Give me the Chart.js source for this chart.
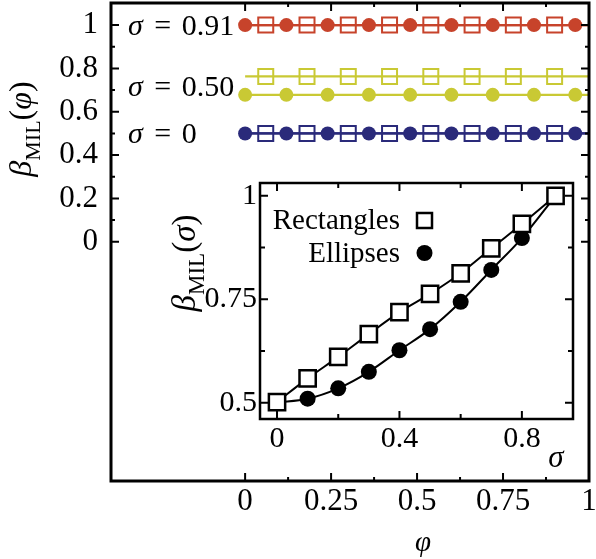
<!DOCTYPE html>
<html>
<head>
<meta charset="utf-8">
<script src="https://cdn.jsdelivr.net/npm/chart.js@4"></script>
<style>
  html, body { margin: 0; padding: 0; background: #fff; }
  #wrap { position: relative; width: 596px; height: 559px; }
  #wrap canvas { position: absolute; left: 0; top: 0; }
</style>
</head>
<body>
<div id="wrap">
  <canvas id="main" width="596" height="559"></canvas>
  <canvas id="inset" width="596" height="559"></canvas>
</div>
<script>
// ---- main panel: beta_MIL as a function of phi ----
const phiCircles = [0, 0.12, 0.24, 0.36, 0.48, 0.60, 0.72, 0.84, 0.96];
const phiSquares = [0.06, 0.18, 0.30, 0.42, 0.54, 0.66, 0.78, 0.90];
const phiLine = [0, 1];
const sigmaLabels = ['0.91', '0.50', '0'];
const betaRectPhi = [1.0, 0.763, 0.5];
const betaEllPhi = [1.0, 0.678, 0.5];
const seriesColors = ['#c7432b', '#c9c934', '#2a2a7a'];
const phiTicks = [0, 0.25, 0.5, 0.75, 1];
const phiMinorTicks = [0.125, 0.375, 0.625, 0.875];
const betaTicks = [0, 0.2, 0.4, 0.6, 0.8, 1];
const betaMinorTicks = [0.1, 0.3, 0.5, 0.7, 0.9];

// ---- inset: beta_MIL as a function of sigma ----
const sigmaValues = [0, 0.1, 0.2, 0.3, 0.4, 0.5, 0.6, 0.7, 0.8, 0.91];
const betaRect = [0.502, 0.559, 0.611, 0.666, 0.719, 0.763, 0.813, 0.873, 0.932, 1.0];
const betaEll = [0.501, 0.510, 0.535, 0.575, 0.627, 0.678, 0.744, 0.821, 0.898, 1.0];
const sigmaTicks = [0, 0.4, 0.8];
const sigmaMinorTicks = [0.2, 0.6];
const betaSigmaTicks = [0.5, 0.75, 1];
const betaSigmaMinorTicks = [0.625, 0.875];
const legendNames = ['Rectangles', 'Ellipses'];

const SERIF = '"Liberation Serif", "DejaVu Serif", serif';
Chart.defaults.font.family = SERIF;
Chart.defaults.color = '#000';

// draws a run of text pieces (italic symbols, subscripts) along one baseline
function drawRich(ctx, parts, x, y, angle, align) {
  ctx.save();
  ctx.translate(x, y);
  ctx.rotate(angle);
  ctx.textBaseline = 'alphabetic';
  ctx.textAlign = 'left';
  ctx.fillStyle = '#000';
  let w = 0;
  parts.forEach(p => { ctx.font = p.f; w += ctx.measureText(p.t).width + (p.dx || 0); });
  let cx = align === 'center' ? -w / 2 : (align === 'right' ? -w : 0);
  parts.forEach(p => {
    ctx.font = p.f;
    ctx.fillText(p.t, cx, p.dy || 0);
    cx += ctx.measureText(p.t).width + (p.dx || 0);
  });
  ctx.restore();
}

// inward ticks on all four sides plus a closed frame
function frameTicks(o) {
  return {
    id: 'frameTicks',
    afterDatasetsDraw(chart) {
      const { ctx, chartArea: a, scales: { x, y } } = chart;
      ctx.save();
      ctx.strokeStyle = '#000';
      ctx.lineWidth = o.tickWidth;
      ctx.beginPath();
      const xs = (vals, len) => vals.forEach(v => {
        const p = x.getPixelForValue(v);
        ctx.moveTo(p, a.bottom); ctx.lineTo(p, a.bottom - len);
        ctx.moveTo(p, a.top); ctx.lineTo(p, a.top + len);
      });
      const ys = (vals, len) => vals.forEach(v => {
        const p = y.getPixelForValue(v);
        ctx.moveTo(a.left, p); ctx.lineTo(a.left + len, p);
        ctx.moveTo(a.right, p); ctx.lineTo(a.right - len, p);
      });
      xs(o.xMajor, o.major); xs(o.xMinor, o.minor);
      ys(o.yMajor, o.major); ys(o.yMinor, o.minor);
      ctx.stroke();
      ctx.lineWidth = o.frameWidth;
      ctx.strokeRect(a.left, a.top, a.right - a.left, a.bottom - a.top);
      ctx.restore();
    }
  };
}

function fixedTicks(values) {
  return scale => { scale.ticks = values.map(v => ({ value: v })); };
}

// ---------- main chart ----------
const mainDatasets = [];
seriesColors.forEach((c, i) => {
  mainDatasets.push({
    data: phiCircles.map(p => ({ x: p, y: betaEllPhi[i] })),
    showLine: false, pointStyle: 'circle', pointRadius: 7,
    pointBackgroundColor: c, pointBorderColor: c, pointBorderWidth: 0, order: 0
  });
  mainDatasets.push({
    data: phiSquares.map(p => ({ x: p, y: betaRectPhi[i] })),
    showLine: false, pointStyle: 'rect', pointRadius: 10.6,
    pointBackgroundColor: 'rgba(0,0,0,0)', pointBorderColor: c, pointBorderWidth: 2, order: 1
  });
  [betaRectPhi[i], betaEllPhi[i]].forEach(b => {
    mainDatasets.push({
      data: phiLine.map(p => ({ x: p, y: b })),
      showLine: true, borderColor: c, borderWidth: 2.2, pointRadius: 0, order: 2
    });
  });
});

const mainLabels = {
  id: 'mainLabels',
  afterDraw(chart) {
    const { ctx, scales: { y } } = chart;
    const ann = 30;
    sigmaLabels.forEach((s, i) => {
      const v = (betaRectPhi[i] + betaEllPhi[i]) / 2;
      drawRich(ctx, [
        { t: 'σ', f: `italic ${ann}px ${SERIF}`, dx: 4 },
        { t: ' = ', f: `${ann}px ${SERIF}`, dx: 3 },
        { t: s, f: `${ann}px ${SERIF}` }
      ], 128, y.getPixelForValue(v) + 10, 0, 'left');
    });
    // axis titles
    drawRich(ctx, [
      { t: 'β', f: `italic 32px ${SERIF}` },
      { t: 'MIL', f: `22px ${SERIF}`, dy: 9 },
      { t: '(', f: `32px ${SERIF}` },
      { t: 'φ', f: `italic 32px ${SERIF}` },
      { t: ')', f: `32px ${SERIF}` }
    ], 31, 129, -Math.PI / 2, 'center');
    drawRich(ctx, [{ t: 'φ', f: `italic 29px ${SERIF}` }], 423, 551, 0, 'center');
  }
};

new Chart(document.getElementById('main'), {
  type: 'scatter',
  data: { datasets: mainDatasets },
  options: {
    responsive: false, animation: false, devicePixelRatio: 1,
    layout: { autoPadding: false, padding: { left: 0, top: 3, right: 7, bottom: 0 } },
    plugins: { legend: { display: false }, tooltip: { enabled: false } },
    elements: { line: { tension: 0 } },
    scales: {
      x: {
        type: 'linear', min: -0.39, max: 1,
        grid: { display: false, drawTicks: false }, border: { display: false },
        afterBuildTicks: fixedTicks(phiTicks),
        afterFit: s => { s.height = 78; s.paddingLeft = 0; s.paddingRight = 0; },
        ticks: { padding: 2, font: { size: 31 }, maxRotation: 0, autoSkip: false,
                 callback: v => String(v) }
      },
      y: {
        type: 'linear', min: -1.104, max: 1.102,
        grid: { display: false, drawTicks: false }, border: { display: false },
        afterBuildTicks: fixedTicks(betaTicks),
        afterFit: s => { s.width = 111; s.paddingTop = 0; s.paddingBottom = 0; },
        ticks: { padding: 13, font: { size: 31 }, autoSkip: false,
                 callback: v => String(v) }
      }
    }
  },
  plugins: [frameTicks({ xMajor: phiTicks, xMinor: phiMinorTicks, yMajor: betaTicks,
                         yMinor: betaMinorTicks, major: 8, minor: 4, tickWidth: 2, frameWidth: 3 }),
            mainLabels]
});

// ---------- inset chart ----------
const insetLabels = {
  id: 'insetLabels',
  beforeDraw(chart) {
    const { ctx, chartArea: a } = chart;
    ctx.save();
    ctx.fillStyle = '#fff';
    ctx.fillRect(a.left, a.top, a.right - a.left, a.bottom - a.top);
    ctx.restore();
  },
  afterDraw(chart) {
    const { ctx } = chart;
    const lf = `29px ${SERIF}`;
    drawRich(ctx, [{ t: legendNames[0], f: lf }], 400, 229, 0, 'right');
    drawRich(ctx, [{ t: legendNames[1], f: lf }], 400, 262, 0, 'right');
    ctx.save();
    ctx.lineWidth = 2.5;
    ctx.strokeStyle = '#000';
    ctx.strokeRect(417, 213, 15, 15);
    ctx.fillStyle = '#000';
    ctx.beginPath();
    ctx.arc(424.5, 253, 8, 0, Math.PI * 2);
    ctx.fill();
    ctx.restore();
    drawRich(ctx, [
      { t: 'β', f: `italic 33px ${SERIF}` },
      { t: 'MIL', f: `23px ${SERIF}`, dy: 9 },
      { t: '(', f: `33px ${SERIF}` },
      { t: 'σ', f: `italic 33px ${SERIF}` },
      { t: ')', f: `33px ${SERIF}` }
    ], 195, 263, -Math.PI / 2, 'center');
    drawRich(ctx, [{ t: 'σ', f: `italic 31px ${SERIF}` }], 556, 467, 0, 'center');
  }
};

new Chart(document.getElementById('inset'), {
  type: 'scatter',
  data: {
    datasets: [
      {
        label: legendNames[0],
        data: sigmaValues.map((s, i) => ({ x: s, y: betaRect[i] })),
        showLine: true, borderColor: '#000', borderWidth: 2, cubicInterpolationMode: 'monotone',
        pointStyle: 'rect', pointRadius: 11.5, pointBorderWidth: 2.5,
        pointBorderColor: '#000', pointBackgroundColor: '#fff', order: 0
      },
      {
        label: legendNames[1],
        data: sigmaValues.map((s, i) => ({ x: s, y: betaEll[i] })),
        showLine: true, borderColor: '#000', borderWidth: 2, cubicInterpolationMode: 'monotone',
        pointStyle: 'circle', pointRadius: 8, pointBorderWidth: 0,
        pointBorderColor: '#000', pointBackgroundColor: '#000', order: 1
      }
    ]
  },
  options: {
    responsive: false, animation: false, devicePixelRatio: 1,
    layout: { autoPadding: false, padding: { left: 160, top: 183, right: 23, bottom: 80 } },
    plugins: { legend: { display: false }, tooltip: { enabled: false } },
    scales: {
      x: {
        type: 'linear', min: -0.0556, max: 0.967,
        grid: { display: false, drawTicks: false }, border: { display: false },
        afterBuildTicks: fixedTicks(sigmaTicks),
        afterFit: s => { s.height = 60; s.paddingLeft = 0; s.paddingRight = 0; },
        ticks: { padding: 2, font: { size: 30 }, maxRotation: 0, autoSkip: false,
                 callback: v => String(v) }
      },
      y: {
        type: 'linear', min: 0.461, max: 1.031,
        grid: { display: false, drawTicks: false }, border: { display: false },
        afterBuildTicks: fixedTicks(betaSigmaTicks),
        afterFit: s => { s.width = 100; s.paddingTop = 0; s.paddingBottom = 0; },
        ticks: { padding: 3, font: { size: 30 }, autoSkip: false,
                 callback: v => String(v) }
      }
    }
  },
  plugins: [frameTicks({ xMajor: sigmaTicks, xMinor: sigmaMinorTicks, yMajor: betaSigmaTicks,
                         yMinor: betaSigmaMinorTicks, major: 8, minor: 5, tickWidth: 2, frameWidth: 2.5 }),
            insetLabels]
});
</script>
</body>
</html>
